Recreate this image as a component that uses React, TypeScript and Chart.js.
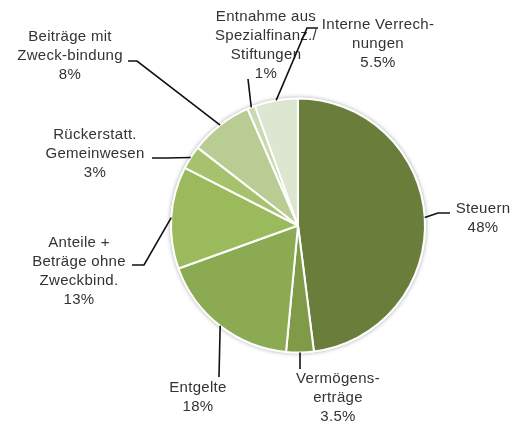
import React, { useEffect, useRef } from "react";
import { Chart, registerables } from "chart.js";

Chart.register(...registerables);

const categories = [
  "Steuern",
  "Vermögenserträge",
  "Entgelte",
  "Anteile + Beträge ohne Zweckbind.",
  "Rückerstatt. Gemeinwesen",
  "Beiträge mit Zweck-bindung",
  "Entnahme aus Spezialfinanz./Stiftungen",
  "Interne Verrechnungen",
];
const shares = [48, 3.5, 18, 13, 3, 8, 1, 5.5];
const labelLines = [
  ["Steuern", "48%"],
  ["Vermögens-", "erträge", "3.5%"],
  ["Entgelte", "18%"],
  ["Anteile +", "Beträge ohne", "Zweckbind.", "13%"],
  ["Rückerstatt.", "Gemeinwesen", "3%"],
  ["Beiträge mit", "Zweck-bindung", "8%"],
  ["Entnahme aus", "Spezialfinanz./", "Stiftungen", "1%"],
  ["Interne Verrech-", "nungen", "5.5%"],
];
const sliceColors = [
  "#6a7e3b",
  "#7f9b48",
  "#8caa52",
  "#9aba5b",
  "#a6c26c",
  "#b8cc94",
  "#c9d9b0",
  "#dde6d0",
];

// layout of callouts (positions only)
const calloutLayout = [
  { path: [[438, 213], [450, 213]], x: 483, y: 209 },
  { path: [[300, 369]], x: 338, y: 379 },
  { path: [[219, 377]], x: 198, y: 388 },
  { path: [[144, 265], [132, 265]], x: 79, y: 243 },
  { path: [[167, 158], [152, 158]], x: 95, y: 135 },
  { path: [[137, 61], [128, 61]], x: 70, y: 37 },
  { path: [[248, 79]], x: 266, y: 17 },
  { path: [[307, 28], [318, 28]], x: 378, y: 25 },
];

const calloutPlugin = {
  id: "callouts",
  beforeDatasetsDraw(chart: any) {
    const meta = chart.getDatasetMeta(0);
    const arc = meta.data[0];
    if (!arc) return;
    const ctx = chart.ctx;
    ctx.save();
    ctx.beginPath();
    ctx.arc(arc.x, arc.y, arc.outerRadius + 1, 0, Math.PI * 2);
    ctx.fillStyle = "#ffffff";
    ctx.shadowColor = "rgba(0,0,0,0.35)";
    ctx.shadowBlur = 4;
    ctx.fill();
    ctx.restore();
  },
  afterDatasetsDraw(chart: any) {
    const meta = chart.getDatasetMeta(0);
    const ctx = chart.ctx;
    ctx.save();
    meta.data.forEach((arc: any, i: number) => {
      const mid = (arc.startAngle + arc.endAngle) / 2;
      const ex = arc.x + Math.cos(mid) * arc.outerRadius;
      const ey = arc.y + Math.sin(mid) * arc.outerRadius;
      const lay = calloutLayout[i];
      ctx.beginPath();
      ctx.moveTo(ex, ey);
      lay.path.forEach((p) => ctx.lineTo(p[0], p[1]));
      ctx.strokeStyle = "#111111";
      ctx.lineWidth = 1.6;
      ctx.stroke();
      ctx.fillStyle = "#333333";
      ctx.font = "15px 'Liberation Sans', Arial, sans-serif";
      (ctx as any).letterSpacing = "0.3px";
      ctx.textAlign = "center";
      ctx.textBaseline = "middle";
      labelLines[i].forEach((t, k) => {
        ctx.fillText(t, lay.x, lay.y + k * 19);
      });
    });
    ctx.restore();
  },
};

export default function App() {
  const ref = useRef<HTMLCanvasElement>(null);
  useEffect(() => {
    if (!ref.current) return;
    const chart = new Chart(ref.current, {
      type: "pie",
      data: {
        labels: categories,
        datasets: [
          {
            data: shares,
            backgroundColor: sliceColors,
            borderColor: "#ffffff",
            borderWidth: 2,
            hoverOffset: 0,
          },
        ],
      },
      options: {
        responsive: false,
        animation: false,
        devicePixelRatio: 1,
        layout: { padding: { left: 170, right: 91, top: 97, bottom: 72 } },
        plugins: {
          legend: { display: false },
          tooltip: { enabled: false },
        },
      },
      plugins: [calloutPlugin],
    });
    return () => chart.destroy();
  }, []);
  return (
    <div style={{ position: "absolute", left: 0, top: 0, width: 517, height: 426, background: "#fff" }}>
      <canvas ref={ref} width={517} height={426} style={{ width: 517, height: 426 }} />
    </div>
  );
}
